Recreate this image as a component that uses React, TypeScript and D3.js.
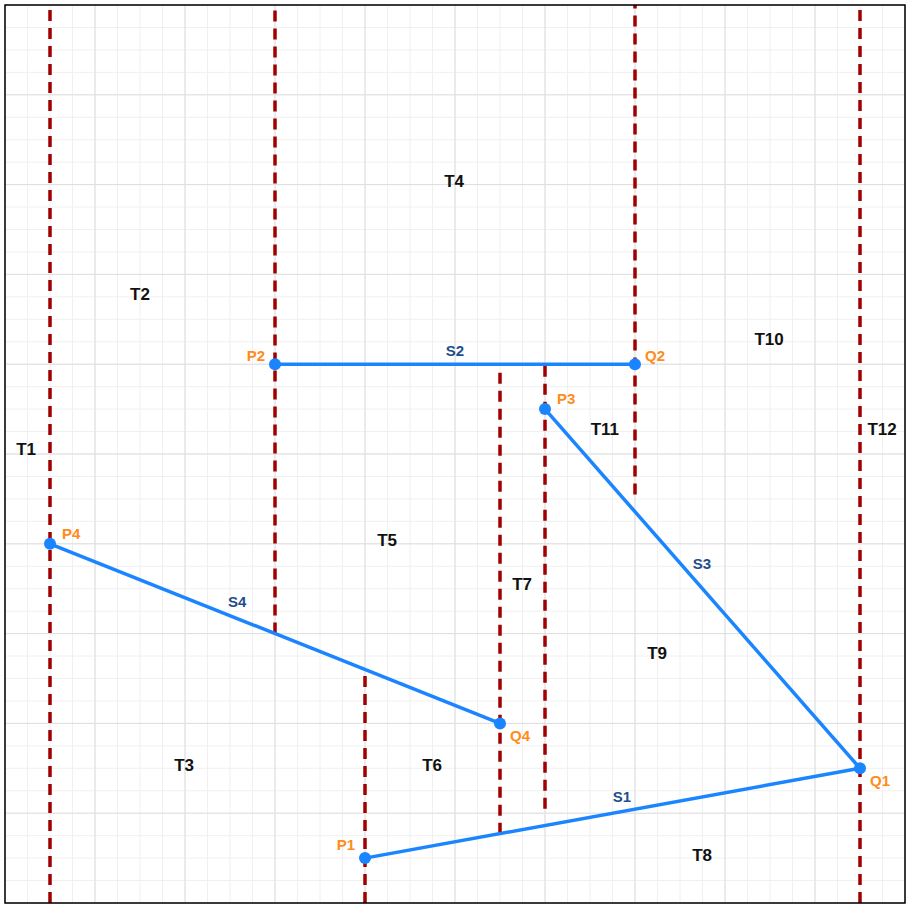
import * as d3 from "d3";

const W = 909;
const H = 908;

const points = [
  { name: "P1", x: 8, y: 1, dx: -10, dy: -12, anchor: "end" },
  { name: "Q1", x: 19, y: 3, dx: 10, dy: 14, anchor: "start" },
  { name: "P2", x: 6, y: 12, dx: -10, dy: -7, anchor: "end" },
  { name: "Q2", x: 14, y: 12, dx: 10, dy: -7, anchor: "start" },
  { name: "P3", x: 12, y: 11, dx: 12, dy: -9, anchor: "start" },
  { name: "P4", x: 1, y: 8, dx: 12, dy: -9, anchor: "start" },
  { name: "Q4", x: 11, y: 4, dx: 10, dy: 14, anchor: "start" },
];

const segments = [
  { name: "S1", from: "P1", to: "Q1", lx: 13.71, ly: 2.33 },
  { name: "S2", from: "P2", to: "Q2", lx: 10, ly: 12.27 },
  { name: "S3", from: "P3", to: "Q1", lx: 15.49, ly: 7.53 },
  { name: "S4", from: "P4", to: "Q4", lx: 5.16, ly: 6.67 },
];

// vertical extensions: x, y from, y to
const walls = [
  { x: 1, y0: 0, y1: 20 },
  { x: 6, y0: 6, y1: 20 },
  { x: 8, y0: 0, y1: 5.2 },
  { x: 11, y0: 1.545, y1: 12 },
  { x: 12, y0: 2.1, y1: 12 },
  { x: 14, y0: 9.1, y1: 20 },
  { x: 19, y0: 0, y1: 20 },
];

const traps = [
  { name: "T1", x: 0.47, y: 10.07 },
  { name: "T2", x: 3, y: 13.53 },
  { name: "T3", x: 3.98, y: 3.04 },
  { name: "T4", x: 9.98, y: 16.04 },
  { name: "T5", x: 8.49, y: 8.04 },
  { name: "T6", x: 9.49, y: 3.04 },
  { name: "T7", x: 11.49, y: 7.07 },
  { name: "T8", x: 15.49, y: 1.04 },
  { name: "T9", x: 14.49, y: 5.53 },
  { name: "T10", x: 16.98, y: 12.53 },
  { name: "T11", x: 13.33, y: 10.53 },
  { name: "T12", x: 19.49, y: 10.53 },
];

export default function App() {
  const x = d3.scaleLinear().domain([0, 20]).range([5, 905]);
  const y = d3.scaleLinear().domain([0, 20]).range([903, 5]);
  const minor = d3.range(0, 20.01, 0.5);
  const major = d3.range(0, 20.01, 2);
  const pt = (n: string) => points.find((p) => p.name === n)!;

  return (
    <svg width={W} height={H} style={{ position: "absolute", left: 0, top: 0, fontFamily: "Arial, Liberation Sans, sans-serif" }}>
      <rect x={0} y={0} width={W} height={H} fill="#fff" />
      {minor.map((v) => (
        <g key={"m" + v}>
          <line x1={x(v)} x2={x(v)} y1={y(0)} y2={y(20)} stroke="#f0f0f0" strokeWidth={1} />
          <line x1={x(0)} x2={x(20)} y1={y(v)} y2={y(v)} stroke="#f0f0f0" strokeWidth={1} />
        </g>
      ))}
      {major.map((v) => (
        <g key={"M" + v}>
          <line x1={x(v)} x2={x(v)} y1={y(0)} y2={y(20)} stroke="#dedede" strokeWidth={1} />
          <line x1={x(0)} x2={x(20)} y1={y(v)} y2={y(v)} stroke="#dedede" strokeWidth={1} />
        </g>
      ))}
      {walls.map((w, i) => (
        <line key={i} x1={x(w.x)} x2={x(w.x)} y1={y(w.y0)} y2={y(w.y1)} stroke="#a00000" strokeWidth={3.5} strokeDasharray="11,7" />
      ))}
      {segments.map((s) => {
        const a = pt(s.from), b = pt(s.to);
        return <line key={s.name} x1={x(a.x)} y1={y(a.y)} x2={x(b.x)} y2={y(b.y)} stroke="#1a85ff" strokeWidth={3.5} />;
      })}
      {segments.map((s) => (
        <text key={"l" + s.name} x={x(s.lx)} y={y(s.ly)} textAnchor="middle" dominantBaseline="middle" fontSize={15} fontWeight="bold" fill="#1f4e8c">{s.name}</text>
      ))}
      {points.map((p) => (
        <g key={p.name}>
          <circle cx={x(p.x)} cy={y(p.y)} r={6} fill="#1a85ff" />
          <text x={x(p.x) + p.dx} y={y(p.y) + p.dy} textAnchor={p.anchor as any} dominantBaseline="middle" fontSize={15} fontWeight="bold" fill="#ff8c1a">{p.name}</text>
        </g>
      ))}
      {traps.map((t) => (
        <text key={t.name} x={x(t.x)} y={y(t.y)} textAnchor="middle" dominantBaseline="middle" fontSize={17} fontWeight="bold" fill="#111">{t.name}</text>
      ))}
      <rect x={x(0)} y={y(20)} width={x(20) - x(0)} height={y(0) - y(20)} fill="none" stroke="#000" strokeWidth={1.5} />
    </svg>
  );
}
